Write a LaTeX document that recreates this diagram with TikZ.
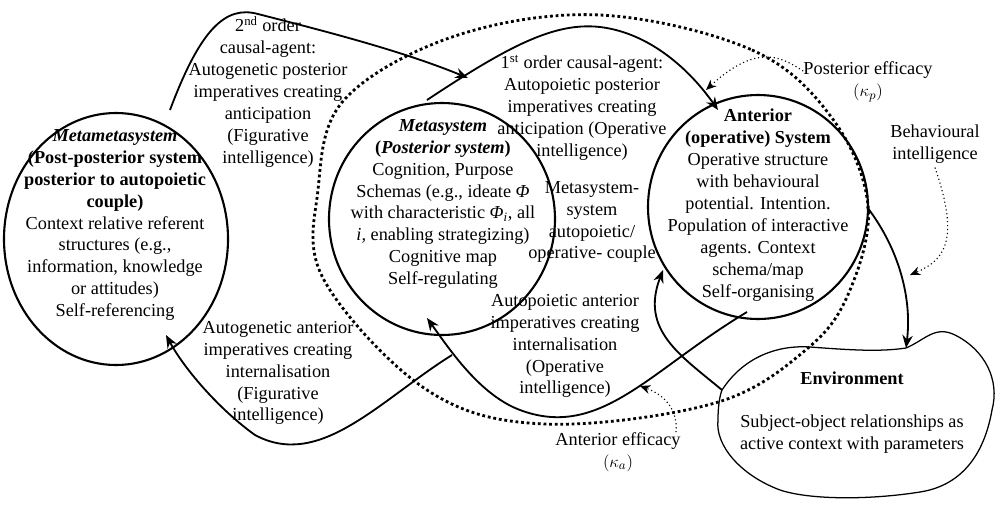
\documentclass[tikz,border=0pt]{standalone}
\usepackage{fontspec}
\setmainfont{Liberation Serif}
\usetikzlibrary{shapes.geometric, arrows.meta, positioning}

\begin{document}
\begin{tikzpicture}[
    x=0.025cm, y=-0.025cm,
    every node/.style={font=\rmfamily\fontsize{13}{15.6}\selectfont},
    system/.style={ellipse, draw=black, line width=1.5pt, inner sep=0pt},
    txt/.style={align=center, inner sep=0pt},
    arrow/.style={-{Stealth[length=3.2mm, width=2.6mm]}, line width=1.3pt},
    efficacy/.style={-{Stealth[length=2.6mm, width=2.2mm]}, dotted, line width=0.8pt},
    couple_line/.style={dotted, line width=2pt}
]
\useasboundingbox (0,0) rectangle (1008,509);

% systems
\node (metameta) [system, minimum width=224*0.025cm, minimum height=252*0.025cm] at (116,239) {};
\node (meta) [system, minimum width=226*0.025cm, minimum height=232*0.025cm] at (442,219) {};
\node (anterior) [system, minimum width=220*0.025cm, minimum height=224*0.025cm] at (758,207) {};

\node (metameta_txt) [txt] at (115,225) {\textbf{\textit{Metametasystem}}\\\textbf{(Post-posterior system}\\\textbf{posterior to autopoietic}\\\textbf{couple)}\\Context relative referent\\structures (e.g.,\\information, knowledge\\or attitudes)\\Self-referencing};
\node (meta_txt) [txt] at (443,204) {\textbf{\textit{Metasystem}}\\\textbf{(\textit{Posterior system})}\\Cognition, Purpose\\Schemas (e.g., ideate \textit{Φ}\\with characteristic \textit{Φ\textsubscript{i}}, all\\\textit{i,} enabling strategizing)\\Cognitive map\\Self-regulating};
\node (anterior_txt) [txt] at (758,205) {\textbf{Anterior}\\\textbf{(operative) System}\\Operative structure\\with behavioural\\potential. Intention.\\Population of interactive\\agents. Context\\schema/map\\Self-organising};

% environment
\coordinate (env_top) at (906,348);
\coordinate (env_left) at (722,390);
\draw[line width=0.9pt] (722,390) .. controls (745,355) and (780,345) .. (810,347)
    .. controls (850,350) and (880,352) .. (906,348)
    .. controls (925,340) and (935,325) .. (955,335)
    .. controls (985,350) and (1000,380) .. (992,410)
    .. controls (985,450) and (965,485) .. (920,492)
    .. controls (870,500) and (810,500) .. (780,490)
    .. controls (740,475) and (715,445) .. (718,420)
    .. controls (718,405) and (720,395) .. (722,390);
\node (env_title) [txt] at (852,378) {\textbf{Environment}};
\node (env_txt) [txt] at (852,434) {Subject-object relationships as\\active context with parameters};

% autopoietic couple boundary
\draw[couple_line] plot[smooth cycle, tension=0.6] coordinates {(600,15) (752,50) (832,118) (868,205) (850,290) (808,348) (715,403) (545,424) (427,390) (324,280) (318,190) (344,100) (455,36)};

% arrows
\draw [arrow] (170,110) .. controls (200,30) and (225,5) .. (258,14) .. controls (320,30) and (400,50) .. (468,78);
\draw [arrow] (427,100) .. controls (510,45) and (555,22) .. (600,27) .. controls (650,33) and (690,70) .. (718,110);
\draw [arrow] (747,312) .. controls (650,370) and (600,440) .. (520,410) .. controls (480,395) and (450,350) .. (427,318);
\draw [arrow] (452,355) .. controls (380,400) and (320,470) .. (255,435) .. controls (220,410) and (185,370) .. (166,335);
\draw [arrow] (env_left) .. controls (680,355) and (640,330) .. (663,270);
\draw [arrow] (867,207) .. controls (900,250) and (912,300) .. (env_top);

% labels
\node (lbl_2nd) [txt] at (268,92) {2\textsuperscript{nd} order\\causal-agent:\\Autogenetic posterior\\imperatives creating\\anticipation\\(Figurative\\intelligence)};
\node (lbl_1st) [txt] at (582,108) {1\textsuperscript{st} order causal-agent:\\Autopoietic posterior\\imperatives creating\\anticipation (Operative\\intelligence)};
\node (lbl_couple) [txt] at (592,222) {Metasystem-\\system\\autopoietic/\\operative- couple};
\node (lbl_ant_op) [txt] at (565,346) {Autopoietic anterior\\imperatives creating\\internalisation\\(Operative\\intelligence)};
\node (lbl_ant_fig) [txt] at (278,373) {Autogenetic anterior\\imperatives creating\\internalisation\\(Figurative\\intelligence)};
\node (post_eff) [txt] at (868,82) {Posterior efficacy\\$(\kappa_p)$};
\node (beh_int) [txt] at (935,144) {Behavioural\\intelligence};
\node (ant_eff) [txt] at (618,452) {Anterior efficacy\\$(\kappa_a)$};

% efficacy pointers
\draw [efficacy] (post_eff.west) ++(0,-11) .. controls (785,60) and (760,40) .. (706,90);
\draw [efficacy] (beh_int.south) ++(0,4) .. controls (960,240) and (945,260) .. (910,275);
\draw [efficacy] (ant_eff.north) ++(58,0) .. controls (678,410) and (665,395) .. (640,386);
\end{tikzpicture}
\end{document}
